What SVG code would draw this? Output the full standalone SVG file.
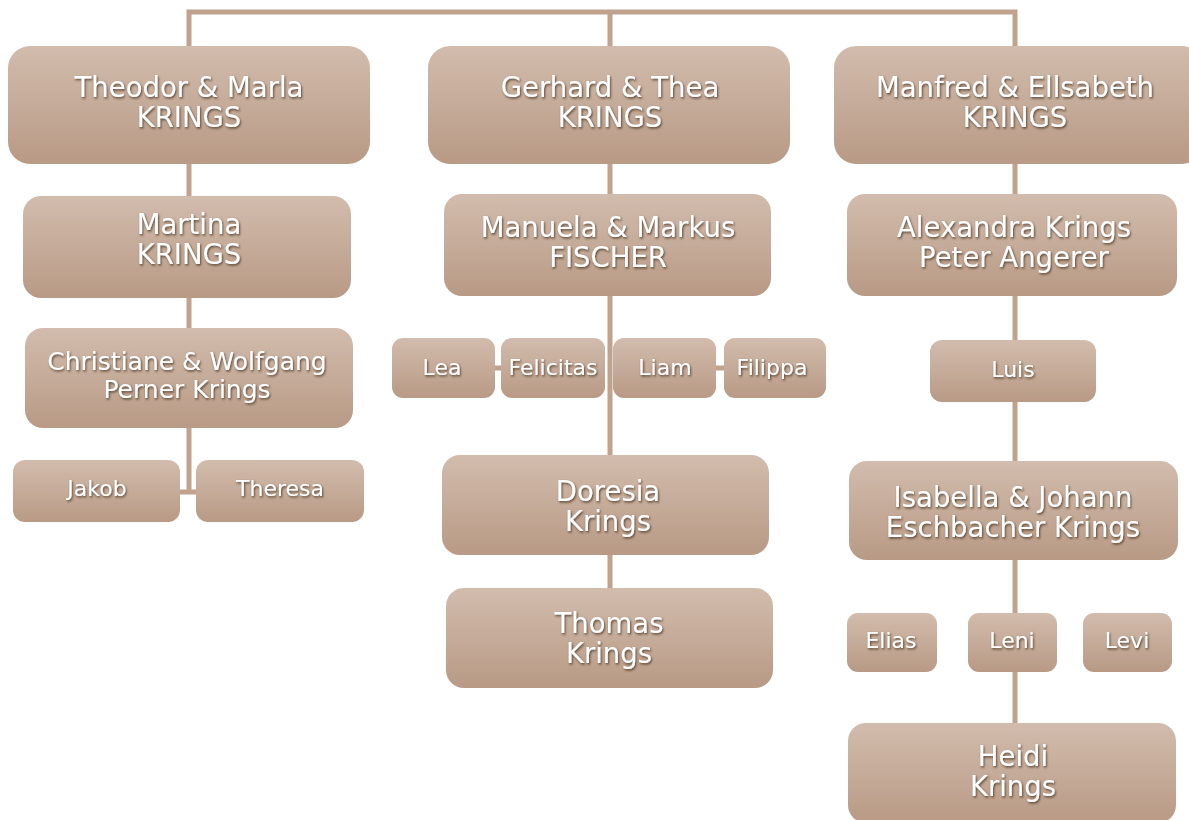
<svg xmlns="http://www.w3.org/2000/svg" width="1189" height="820" viewBox="0 0 1189 820">
<defs>
<linearGradient id="g" x1="0" y1="0" x2="0" y2="1">
<stop offset="0" stop-color="#d2bcad"/>
<stop offset="1" stop-color="#b89a85"/>
</linearGradient>
<filter id="ts" x="-10%" y="-20%" width="130%" height="160%">
<feDropShadow dx="1" dy="1.5" stdDeviation="0.8" flood-color="#3e2a1e" flood-opacity="0.8"/>
</filter>
</defs>
<style>
.b{fill:url(#g);}
.t{font-family:"DejaVu Sans",Verdana,sans-serif;fill:#ffffff;text-anchor:middle;filter:url(#ts);}
.L{font-size:27.5px;}
.M{font-size:25px;}
.S{font-size:22px;}
.c{fill:none;stroke:#c0a28d;stroke-width:5;}
</style>
<rect width="1189" height="820" fill="#ffffff"/>
<g id="connectors">
<path class="c" d="M189,48 V12 H1015 V48 M610,12 V48"/>
<path class="c" d="M189,164 V196 M189,298 V328 M189,428 V492 M178,492 H198"/>
<path class="c" d="M610,164 V194 M610,296 V588 M494,368 H502 M715,368 H725"/>
<path class="c" d="M1015,164 V723"/>
</g>
<g id="n1"><rect class="b" x="8" y="46" width="362" height="118" rx="22"/><text class="t L" x="189" y="97">Theodor &amp; Marla</text><text class="t L" x="189" y="127">KRINGS</text></g>
<g id="n2"><rect class="b" x="23" y="196" width="328" height="102" rx="18"/><text class="t L" x="189" y="234">Martina</text><text class="t L" x="189" y="264">KRINGS</text></g>
<g id="n3"><rect class="b" x="25" y="328" width="328" height="100" rx="18"/><text class="t M" x="187" y="370">Christiane &amp; Wolfgang</text><text class="t M" x="187" y="398">Perner Krings</text></g>
<g id="n4"><rect class="b" x="13" y="460" width="167" height="62" rx="12"/><text class="t S" x="97" y="496">Jakob</text></g>
<g id="n5"><rect class="b" x="196" y="460" width="168" height="62" rx="12"/><text class="t S" x="280" y="496">Theresa</text></g>
<g id="n6"><rect class="b" x="428" y="46" width="362" height="118" rx="22"/><text class="t L" x="610" y="97">Gerhard &amp; Thea</text><text class="t L" x="610" y="127">KRINGS</text></g>
<g id="n7"><rect class="b" x="444" y="194" width="327" height="102" rx="18"/><text class="t L" x="608" y="237">Manuela &amp; Markus</text><text class="t L" x="608" y="267">FISCHER</text></g>
<g id="n8"><rect class="b" x="392" y="338" width="103" height="60" rx="11"/><text class="t S" x="442" y="375">Lea</text></g>
<g id="n9"><rect class="b" x="501" y="338" width="104" height="60" rx="11"/><text class="t S" x="553" y="375">Felicitas</text></g>
<g id="n10"><rect class="b" x="613" y="338" width="103" height="60" rx="11"/><text class="t S" x="665" y="375">Liam</text></g>
<g id="n11"><rect class="b" x="724" y="338" width="102" height="60" rx="11"/><text class="t S" x="772" y="375">Filippa</text></g>
<g id="n12"><rect class="b" x="442" y="455" width="327" height="100" rx="18"/><text class="t L" x="608" y="501">Doresia</text><text class="t L" x="608" y="531">Krings</text></g>
<g id="n13"><rect class="b" x="446" y="588" width="327" height="100" rx="18"/><text class="t L" x="609" y="633">Thomas</text><text class="t L" x="609" y="663">Krings</text></g>
<g id="n14"><rect class="b" x="834" y="46" width="370" height="118" rx="22"/><text class="t L" x="1015" y="97">Manfred &amp; Ellsabeth</text><text class="t L" x="1015" y="127">KRINGS</text></g>
<g id="n15"><rect class="b" x="847" y="194" width="330" height="102" rx="18"/><text class="t L" x="1014" y="237">Alexandra Krings</text><text class="t L" x="1014" y="267">Peter Angerer</text></g>
<g id="n16"><rect class="b" x="930" y="340" width="166" height="62" rx="12"/><text class="t S" x="1013" y="377">Luis</text></g>
<g id="n17"><rect class="b" x="849" y="461" width="329" height="99" rx="18"/><text class="t L" x="1013" y="507">Isabella &amp; Johann</text><text class="t L" x="1013" y="537">Eschbacher Krings</text></g>
<g id="n18"><rect class="b" x="847" y="613" width="90" height="59" rx="11"/><text class="t S" x="891" y="648">Elias</text></g>
<g id="n19"><rect class="b" x="968" y="613" width="89" height="59" rx="11"/><text class="t S" x="1012" y="648">Leni</text></g>
<g id="n20"><rect class="b" x="1083" y="613" width="89" height="59" rx="11"/><text class="t S" x="1127" y="648">Levi</text></g>
<g id="n21"><rect class="b" x="848" y="723" width="328" height="100" rx="18"/><text class="t L" x="1013" y="766">Heidi</text><text class="t L" x="1013" y="796">Krings</text></g>
</svg>
